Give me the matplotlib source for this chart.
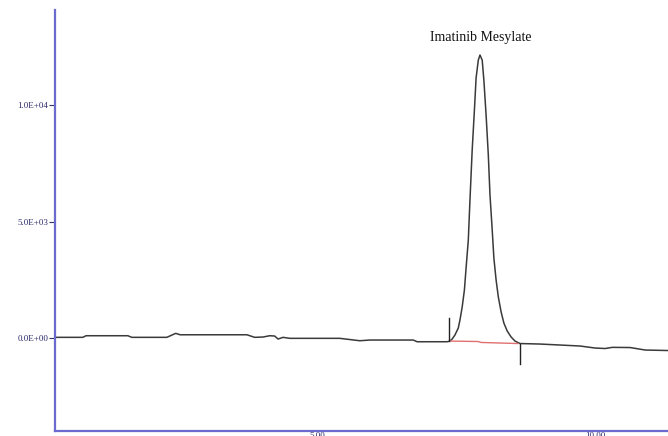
import numpy as np
import matplotlib.pyplot as plt

# chromatogram trace (time in min, response)
time = [0.29, 0.79, 0.85, 1.60, 1.67, 2.30, 2.46, 2.54, 3.74, 3.88, 4.03, 4.15,
        4.24, 4.30, 4.39, 4.51, 5.41, 5.77, 5.95, 6.73, 6.80, 7.34,
        7.39, 7.43, 7.48, 7.54, 7.57, 7.61, 7.65, 7.68, 7.72, 7.75, 7.79, 7.83,
        7.86, 7.90, 7.93, 7.97, 8.00, 8.04, 8.08, 8.11, 8.15, 8.18, 8.22, 8.26,
        8.31, 8.36, 8.42, 8.49, 8.56, 8.65,
        9.01, 9.37, 9.73, 10.00, 10.18, 10.31, 10.63, 10.90, 11.31]
signal = [30, 30, 99, 99, 30, 30, 200, 140, 140, 30, 43, 99,
          86, -43, 30, -13, -13, -116, -86, -86, -159, -159,
          -130, -43, 130, 430, 770, 1330, 2060, 3000, 4200, 5920, 8070, 9790,
          11160, 11930, 12150, 11930, 11070, 9570, 7850, 6140, 4640, 3430, 2490, 1760,
          1120, 640, 300, 43, -130, -236,
          -258, -300, -343, -429, -450, -400, -408, -515, -536]

# integration baseline (red) and start/end markers
base_t = [7.39, 7.90, 7.95, 8.61]
base_y = [-130, -150, -190, -236]
mark_t = [7.37, 8.65]
mark_lo = [-130, -1100]
mark_hi = [870, -236]

peak_name = "Imatinib Mesylate"
peak_t = 7.95
yticks = [0, 5000, 10000]
ylabels = ["0.0E+00", "5.0E+03", "1.0E+04"]
xticks = [5, 10]
xlabels = ["5.00", "10.00"]

axis_col = "#6a6acf"
txt_col = "#2a2a6a"

fig = plt.figure(figsize=(6.68, 4.36), dpi=100)
ax = fig.add_axes([0.0823, 0.0115, 0.9177, 0.9655])

ax.plot(time, signal, color="#3a3a3a", lw=1.1)
ax.plot(base_t, base_y, color="#e07070", lw=1.0)
for t, lo, hi in zip(mark_t, mark_lo, mark_hi):
    ax.plot([t, t], [lo, hi], color="#222222", lw=1.0)

ax.text(peak_t, 12900, peak_name, ha="center", va="center",
        fontsize=10, family="Liberation Serif", color="#111111")

ax.set_xlim(0.29, 11.31)
ax.set_ylim(-3990, 14080)

for s in ["top", "right"]:
    ax.spines[s].set_visible(False)
for s in ["left", "bottom"]:
    ax.spines[s].set_color(axis_col)
    ax.spines[s].set_linewidth(1.6)

ax.set_yticks(yticks)
ax.set_yticklabels(ylabels, family="Liberation Serif", fontsize=6.5, color=txt_col)
ax.set_xticks(xticks)
ax.set_xticklabels(xlabels, family="Liberation Serif", fontsize=6.5, color=txt_col)
ax.tick_params(axis="y", length=4, width=0.8, color="#333366", pad=1)
ax.tick_params(axis="x", length=0, pad=1)

fig.savefig("out.png", dpi=100)
